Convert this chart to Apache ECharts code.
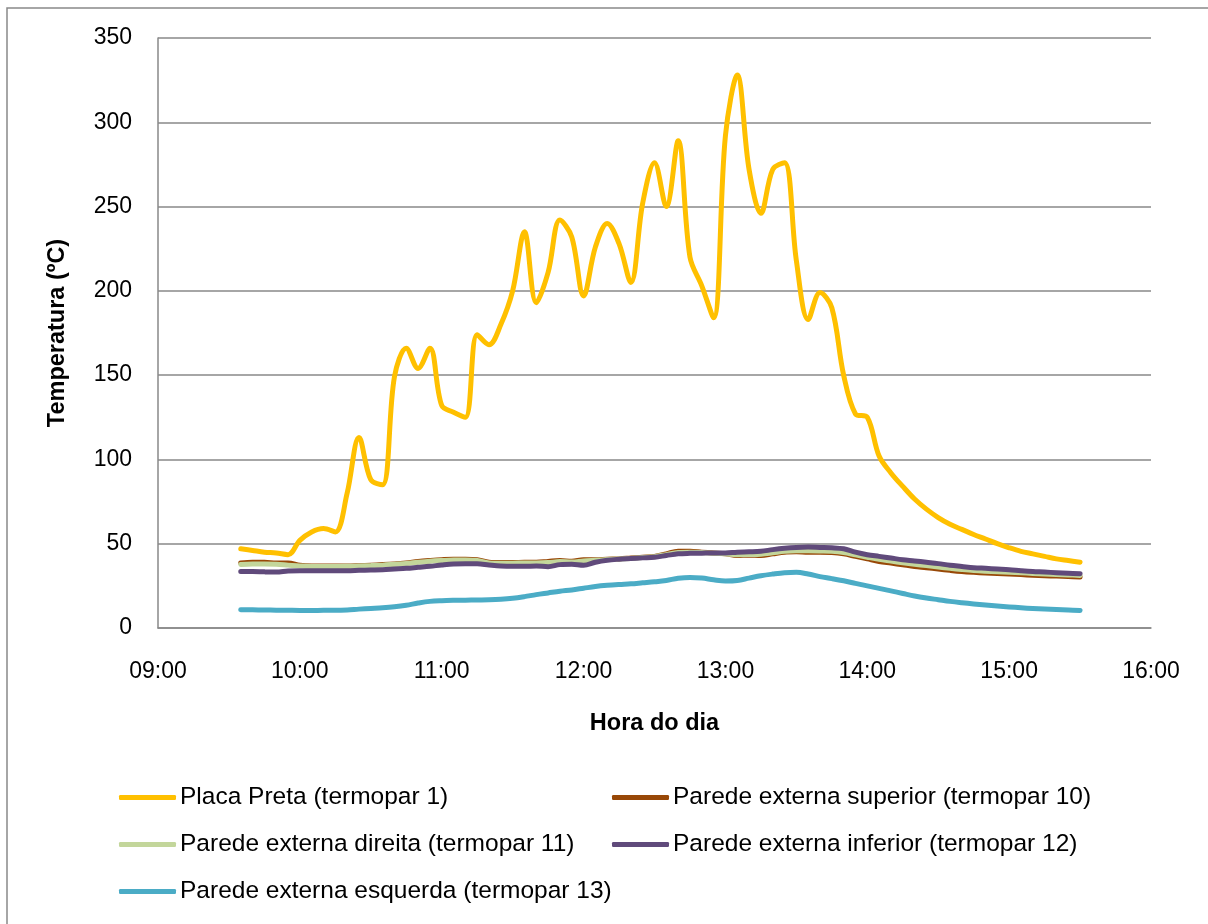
<!DOCTYPE html>
<html>
<head>
<meta charset="utf-8">
<script src="https://cdn.jsdelivr.net/npm/echarts@6/dist/echarts.min.js"></script>
<style>html,body{margin:0;padding:0;background:#fff}#c{width:1208px;height:924px}</style>
</head>
<body>
<div id="c"></div>
<script>
const times = ["09:35","09:40","09:45","09:50","09:55","10:00","10:05","10:10","10:15","10:20",
"10:25","10:30","10:35","10:40","10:45","10:50","10:55","11:00","11:05","11:10",
"11:15","11:20","11:25","11:30","11:35","11:40","11:45","11:50","11:55","12:00",
"12:05","12:10","12:15","12:20","12:25","12:30","12:35","12:40","12:45","12:50",
"12:55","13:00","13:05","13:10","13:15","13:20","13:25","13:30","13:35","13:40",
"13:45","13:50","13:55","14:00","14:05","14:10","14:15","14:20","14:25","14:30",
"14:35","14:40","14:45","14:50","14:55","15:00","15:05","15:10","15:15","15:20",
"15:25","15:30"];

const placaPreta = [47,46,45,44.5,43.5,52,57,59,57,80, 113,88,85,149,166,154,166,132,128,125,
174,168,180,200,235,193,211,242,232,197, 226,240,228,205,252,276,250,289,220,203,
184,292,328,272,246,272,276,218,183,199, 190,150,127,125,102,92,84,76.5,70.5,65.5,
61.5,58.5,55.5,52.8,50,47.6,45.5,44,42.5,41, 40,39];

const paredeSuperior = [38.5,39,39,38.5,38.5,37.2,36.8,36.8,36.8,36.8, 37,37.3,37.6,38,38.6,39.4,40,40.5,40.8,40.8,
40.5,39,38.8,38.8,39,39,39.5,40,39.6,40.5, 40.5,40.8,41,41.5,42,42.5,44,45.6,45.5,45,
44.5,44,43,43.2,43,44,45,45.2,45,45, 44.8,44,42.5,41,39.5,38.5,37.5,36.5,35.8,35,
34.2,33.5,33,32.6,32.3,32,31.7,31.3,31,30.8, 30.5,30.2];

const paredeDireita = [37.7,38,38,37.8,37.3,36.8,36.5,36.5,36.5,36.6, 36.8,37,37.3,37.8,38.3,39,39.6,40,40.3,40.3,
40,38.6,38.4,38.4,38.6,38.6,38.8,39.4,39.2,39.8, 40.2,40.6,40.9,41.3,41.8,42.3,43.5,44.8,45,44.8,
44.4,44,43.5,43.6,43.8,44.6,45.5,45.8,45.8,45.7, 45.5,44.8,43.4,42,40.7,39.7,38.7,37.8,37,36.2,
35.4,34.7,34.1,33.7,33.4,33.1,32.8,32.4,32.1,31.8, 31.5,31.2];

const paredeInferior = [33.5,33.5,33.3,33.2,33.8,34,34,34,34,34, 34.2,34.4,34.6,35,35.4,36,36.6,37.4,38,38.1,
38.1,37.4,36.8,36.6,36.6,36.8,36.4,37.6,37.8,37.2, 39,40.2,40.8,41.2,41.6,42,43,44,44.3,44.4,
44.5,44.5,45,45.2,45.5,46.5,47.3,47.8,48,47.8, 47.6,47,45,43.5,42.5,41.5,40.5,39.8,39,38.2,
37.2,36.5,35.8,35.4,35,34.6,34,33.5,33.2,32.8, 32.5,32.2];

const paredeEsquerda = [10.9,10.8,10.7,10.6,10.5,10.4,10.4,10.5,10.5,10.7, 11.2,11.6,12,12.6,13.5,14.8,15.8,16.2,16.4,16.5,
16.6,16.7,17,17.6,18.6,19.8,20.8,21.8,22.6,23.6, 24.6,25.3,25.8,26.2,26.8,27.4,28.2,29.5,30,29.6,
28.6,27.9,28.2,29.6,31,32,32.8,33,32,30.5, 29.3,28,26.5,25,23.5,22,20.5,19,17.8,16.8,
15.8,15,14.3,13.6,13,12.5,12,11.6,11.3,11, 10.7,10.4];

const seriesNames = ["Placa Preta (termopar 1)","Parede externa superior (termopar 10)","Parede externa direita (termopar 11)","Parede externa inferior (termopar 12)","Parede externa esquerda (termopar 13)"];
const seriesColors = ["#FFC000","#984807","#C3D69B","#604A7B","#4BACC6"];
const seriesData = [placaPreta, paredeSuperior, paredeDireita, paredeInferior, paredeEsquerda];
const xTickMin = 540, xTickMax = 960, xTickStep = 60;
const yTickMin = 0, yTickMax = 350, yTickStep = 50;

function toMin(t){const p=t.split(":");return (+p[0])*60+(+p[1]);}
function fmt(v){const h=Math.floor(v/60), m=v%60;return String(h).padStart(2,"0")+":"+String(m).padStart(2,"0");}

const FONT = "Liberation Sans";
const chart = echarts.init(document.getElementById("c"), null, {renderer:"canvas"});

const legendPos = [
  {left:119, top:785}, {left:612, top:785},
  {left:119, top:832}, {left:612, top:832},
  {left:119, top:879}
];

chart.setOption({
  animation:false,
  backgroundColor:"#fff",
  textStyle:{fontFamily:FONT},
  graphic:[{type:"rect", shape:{x:7, y:8, width:1300, height:1000},
    style:{fill:"none", stroke:"#898989", lineWidth:1.5}, silent:true}],
  grid:{left:158, right:57, top:38, bottom:296, containLabel:false},
  legend: seriesNames.map((n,i)=>({
    data:[n], left:legendPos[i].left, top:legendPos[i].top, orient:"horizontal",
    padding:0,
    icon:"roundRect", itemWidth:57, itemHeight:5, itemGap:5,
    textStyle:{fontFamily:FONT, fontSize:24.5, color:"#000", padding:[0,0,0,-1]},
    selectedMode:false
  })),
  xAxis:{type:"value", min:xTickMin, max:xTickMax, interval:xTickStep,
    name:"Hora do dia", nameLocation:"middle", nameGap:84,
    nameTextStyle:{fontFamily:FONT, fontSize:23.5, fontWeight:"bold", color:"#000"},
    axisLine:{show:true, lineStyle:{color:"#898989", width:1.5}},
    axisTick:{show:false},
    axisLabel:{formatter:fmt, fontFamily:FONT, fontSize:23, color:"#000", margin:32},
    splitLine:{show:false}},
  yAxis:{type:"value", min:yTickMin, max:yTickMax, interval:yTickStep,
    name:"Temperatura (ºC)", nameLocation:"middle", nameGap:88,
    nameTextStyle:{fontFamily:FONT, fontSize:23.5, fontWeight:"bold", color:"#000"},
    axisLine:{show:true, lineStyle:{color:"#898989", width:1.5}},
    axisTick:{show:false},
    axisLabel:{fontFamily:FONT, fontSize:23, color:"#000", margin:26},
    splitLine:{show:true, lineStyle:{color:"#898989", width:1.5}}},
  series: seriesNames.map((n,i)=>({
    name:n, type:"line", smooth:0.35, symbol:"none",
    data: times.map((t,k)=>[toMin(t), seriesData[i][k]]),
    lineStyle:{color:seriesColors[i], width:5, cap:"round", join:"round"},
    itemStyle:{color:seriesColors[i]},
    z: 2+i
  }))
});
</script>
</body>
</html>
